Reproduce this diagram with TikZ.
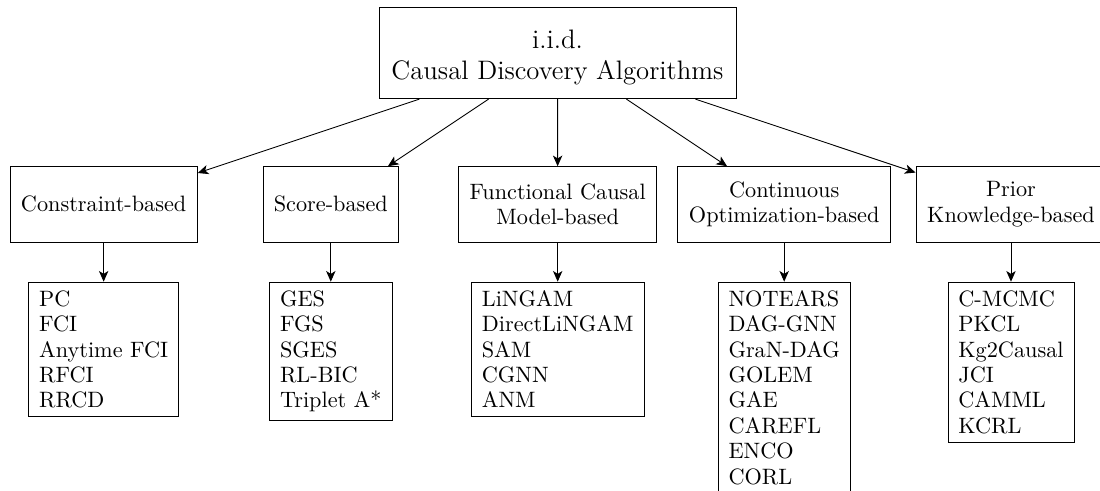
\documentclass[tikz,border=0pt]{standalone}
\usetikzlibrary{arrows.meta}
\newcommand\pxl{0.4494pt}
\begin{document}
\begin{tikzpicture}[x=0.4494pt, y=-0.4494pt,
  box/.style={draw, line width=0.4pt, inner xsep=4.5pt, inner ysep=3.8pt,
    font=\fontsize{10}{11.4}\selectfont},
  rootbox/.style={box, font=\fontsize{12}{14}\selectfont, align=center,
    minimum width=357*\pxl, minimum height=91.2*\pxl},
  catbox/.style={box, align=center, minimum height=75.3*\pxl},
  listbox/.style={box, align=left, anchor=north},
  arr/.style={-{Stealth[length=4.8pt, width=4.2pt, inset=1.3pt]}, line width=0.4pt}
]
\useasboundingbox (0,0) rectangle (1100,491);

% root
\node[rootbox] (root) at (557.5,53.1)
  {\rule{0pt}{12.3pt}i.i.d.\\Causal Discovery Algorithms};

% categories
\node[catbox, minimum width=187.3*\pxl] (c1) at (103.65,204.35) {Constraint-based};
\node[catbox, minimum width=135*\pxl]   (c2) at (330.8,204.35)  {Score-based};
\node[catbox, minimum width=198*\pxl]   (c3) at (557.7,204.35)  {Functional Causal\\Model-based};
\node[catbox, minimum width=213*\pxl]   (c4) at (784.2,204.35)  {Continuous\\Optimization-based};
\node[catbox, minimum width=190*\pxl]   (c5) at (1011,204.35)   {Prior\\Knowledge-based};

% algorithm lists
\node[listbox, minimum width=150*\pxl, minimum height=134*\pxl] (l1) at (103.65,281.7)
  {PC\\FCI\\Anytime FCI\\RFCI\\RRCD};
\node[listbox, minimum width=122.4*\pxl, minimum height=134*\pxl] (l2) at (330.8,281.7)
  {GES\\FGS\\SGES\\RL-BIC\\Triplet A*};
\node[listbox, minimum width=173.3*\pxl, minimum height=134*\pxl] (l3) at (557.7,281.7)
  {LiNGAM\\DirectLiNGAM\\SAM\\CGNN\\ANM};
\node[listbox, minimum width=131.7*\pxl, minimum height=209.9*\pxl] (l4) at (784.2,281.7)
  {NOTEARS\\DAG-GNN\\GraN-DAG\\GOLEM\\GAE\\CAREFL\\ENCO\\CORL};
\node[listbox, minimum width=126*\pxl, minimum height=159.3*\pxl] (l5) at (1011,281.7)
  {C-MCMC\\PKCL\\Kg2Causal\\JCI\\CAMML\\KCRL};

% connectors
\foreach \c in {c1,c2,c3,c4,c5} \draw[arr] (root) -- (\c);
\foreach \c/\l in {c1/l1,c2/l2,c3/l3,c4/l4,c5/l5} \draw[arr] (\c) -- (\l);
\end{tikzpicture}
\end{document}
